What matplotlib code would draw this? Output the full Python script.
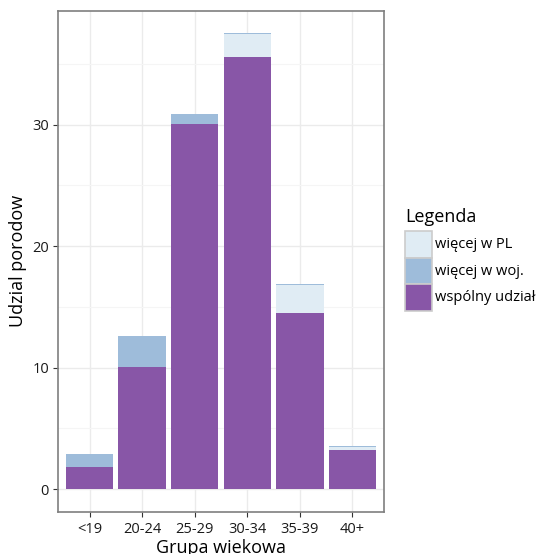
import matplotlib.pyplot as plt
from matplotlib.patches import Rectangle

grupy = ["<19", "20-24", "25-29", "30-34", "35-39", "40+"]
wiecej_woj = [2.86, 12.6, 30.84, 37.5, 16.87, 3.53]
wiecej_pl = [1.79, 10.06, 30.03, 37.42, 16.8, 3.46]
wspolny = [1.79, 10.06, 30.03, 35.58, 14.48, 3.21]

kolory = {"więcej w PL": "#e0ecf4", "więcej w woj.": "#9ebcda", "wspólny udział": "#8856a7"}

plt.rcParams['font.family'] = ['Open Sans', 'DejaVu Sans']

fig = plt.figure(figsize=(5.36, 5.54), dpi=100)
ax = fig.add_axes([58/536, 1 - 512/554, 326/536, 501.4/554])

x = range(len(grupy))
# warstwy nakladane jedna na druga
ax.bar(x, wiecej_woj, width=0.9, color=kolory["więcej w woj."], zorder=2)
ax.bar(x, wiecej_pl, width=0.9, color=kolory["więcej w PL"], zorder=3)
ax.bar(x, wspolny, width=0.9, color=kolory["wspólny udział"], zorder=4)

ax.set_xlim(-0.6, 5.6)
ax.set_ylim(-1.875, 39.375)
ax.set_xticks(list(x))
ax.set_xticklabels(grupy)
ax.set_yticks([0, 10, 20, 30])
ax.set_yticks([5, 15, 25, 35], minor=True)
ax.grid(True, which='major', color='#ebebeb', linewidth=1.0, zorder=0)
ax.grid(True, which='minor', axis='y', color='#f5f5f5', linewidth=0.8, zorder=0)
ax.set_axisbelow(True)
ax.tick_params(which='major', length=3.5, color='#333333', labelsize=10.5, labelcolor='#1a1a1a', pad=3)
ax.tick_params(axis='x', pad=4)
ax.tick_params(which='minor', length=0)
for s in ax.spines.values():
    s.set_color('#7f7f7f')
    s.set_linewidth(1.2)

ax.set_xlabel("Grupa wiekowa", fontsize=13, labelpad=1)
ax.set_ylabel("Udzial porodow", fontsize=13, labelpad=4)

# legenda
fig.text(405/536, 1 - 217/554, "Legenda", fontsize=13, va='center', ha='left')
y0 = 231
for i, (nazwa, kol) in enumerate(kolory.items()):
    top = y0 + i * 26.7
    fig.add_artist(Rectangle((405/536, 1 - (top + 26.7)/554), 26.5/536, 26.7/554,
                             facecolor=kol, edgecolor='#cccccc', linewidth=1.2,
                             transform=fig.transFigure))
    fig.text(435/536, 1 - (top + 13.3)/554, nazwa, fontsize=10.5, va='center', ha='left')

fig.savefig("out.png", dpi=100)
